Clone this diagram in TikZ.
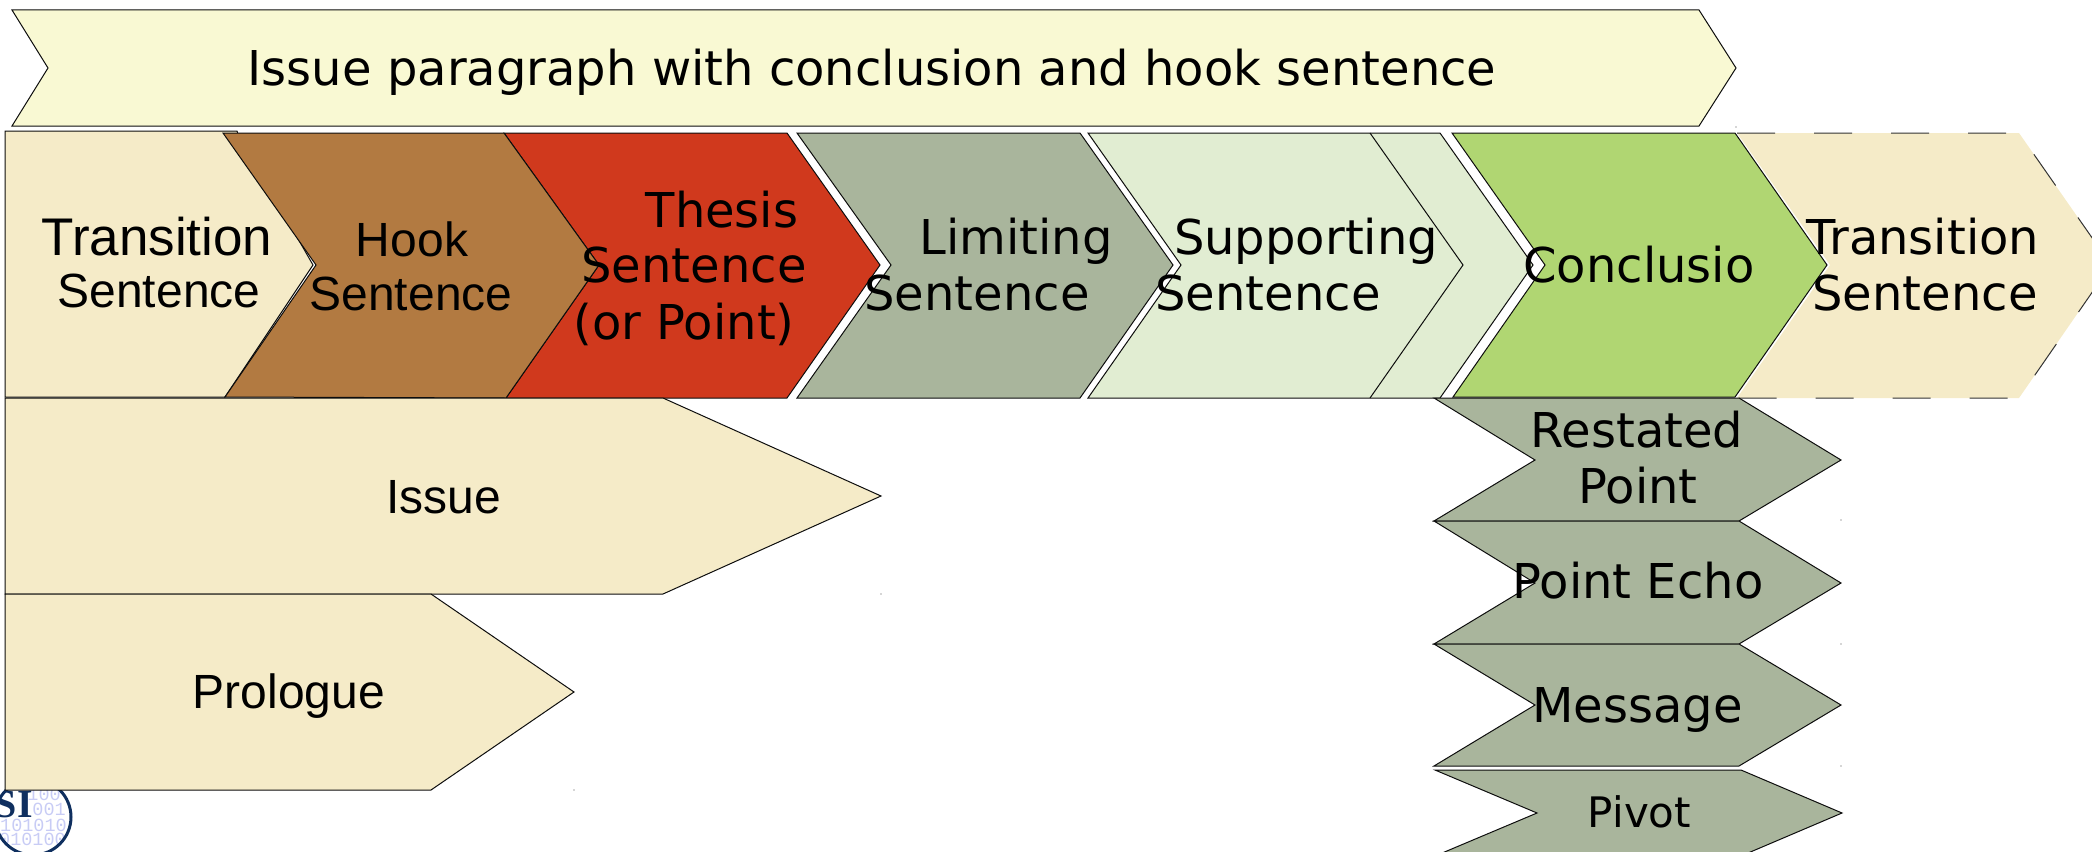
\documentclass[tikz,border=0pt]{standalone}
\usepackage{fontspec}
\setmainfont{DejaVu Sans}
\newfontfamily\arialf{Liberation Sans}
\newfontfamily\serf{Liberation Serif}
\newfontfamily\monof{Liberation Mono}
\definecolor{bannerc}{HTML}{F9F9D3}
\definecolor{beigec}{HTML}{F5EBC8}
\definecolor{hookc}{HTML}{B27A41}
\definecolor{thesisc}{HTML}{D0391D}
\definecolor{limitc}{HTML}{A9B59C}
\definecolor{supportc}{HTML}{E1EDD2}
\definecolor{conclc}{HTML}{B0D672}
\definecolor{logoc}{HTML}{0F2F5F}
\definecolor{bitc}{HTML}{C8CCF5}
\tikzset{
  chev/.style={draw=black!95,line width=1pt,line join=miter},
  dv/.style={anchor=base,inner sep=0pt,text=black,font=\fontsize{48}{50}\selectfont},
  ar/.style={anchor=base,inner sep=0pt,text=black,font=\arialf\fontsize{48}{50}\selectfont},
  bits/.style={anchor=base east,inner sep=0pt,text=bitc,font=\monof\fontsize{18.5}{20}\selectfont},
  speck/.style={fill=black!70,draw=none}
}
\begin{document}
\begin{tikzpicture}[x=1pt,y=-1pt]
\useasboundingbox (0,0) rectangle (2092,851);
\clip (0,0) rectangle (2092,851);
% logo
\begin{scope}
  \clip (33,817) circle (38);
  \node[bits] (b1) at (61,800) {100};
  \node[bits] (b2) at (66,815) {001};
  \node[bits] (b3) at (67,831) {101010};
  \node[bits] (b4) at (66,845) {010100};
  \node[anchor=base east,inner sep=0pt,text=logoc,font=\serf\bfseries\fontsize{40}{40}\selectfont] (si) at (33,817) {SI};
\end{scope}
\draw[logoc,line width=3pt] (33,817) circle (38);
% banner
\filldraw[chev,fill=bannerc] (12,10) -- (1699,10) -- (1736,68) -- (1699,126) -- (12,126) -- (48,68) -- cycle;
\node[dv] (banner) at (872,85) {Issue paragraph with conclusion and hook sentence};
% row of chevrons
\filldraw[chev,fill=beigec] (5,131) -- (237,131) -- (238,134) -- (313,265) -- (225,397) -- (5,397) -- cycle;
\filldraw[chev,fill=thesisc] (504,133) -- (787,133) -- (880,265) -- (787,398) -- (506,398) -- (599,265) -- cycle;
\filldraw[chev,fill=hookc] (223,133) -- (504,133) -- (599,265) -- (506,398) -- (225,397) -- (316,265) -- cycle;
\filldraw[chev,fill=limitc] (797,133) -- (1080,133) -- (1173,265) -- (1080,398) -- (797,398) -- (891,265) -- cycle;
\filldraw[chev,fill=supportc] (1088,133) -- (1440,133) -- (1533,265) -- (1440,398) -- (1088,398) -- (1181,265) -- cycle;
\draw[chev] (1370,133) -- (1463,265) -- (1370,398);
\fill[beigec] (1737,133) -- (2019,133) -- (2111,265) -- (2019,398) -- (1737,398) -- (1830,265) -- cycle;
\draw[black!80,line width=1pt,dash pattern=on 38pt off 39pt] (1737,133) -- (2019,133) -- (2111,265) -- (2019,398) -- (1737,398);
\filldraw[chev,fill=conclc] (1452,133) -- (1735,133) -- (1827,265) -- (1735,397) -- (1453,397) -- (1545,265) -- cycle;
% issue & prologue
\filldraw[chev,fill=beigec] (5,398) -- (663,398) -- (881,496) -- (663,594) -- (5,594) -- cycle;
\filldraw[chev,fill=beigec] (5,594) -- (431,594) -- (574,692) -- (431,790) -- (5,790) -- cycle;
% stacked
\filldraw[chev,fill=limitc] (1434,398) -- (1739,398) -- (1841,460) -- (1739,521) -- (1434,521) -- (1535,460) -- cycle;
\filldraw[chev,fill=limitc] (1434,521) -- (1739,521) -- (1841,583) -- (1739,644) -- (1434,644) -- (1535,583) -- cycle;
\filldraw[chev,fill=limitc] (1434,644) -- (1739,644) -- (1841,705) -- (1739,766) -- (1434,766) -- (1535,705) -- cycle;
\filldraw[chev,fill=limitc] (1435,770) -- (1741,770) -- (1842,813) -- (1741,856) -- (1435,856) -- (1537,813) -- cycle;
% specks
\fill[speck] (881,594) circle (0.7);
\fill[speck] (574,790) circle (0.7);
\fill[speck] (1736,127) circle (0.7);
\fill[speck] (1841,520) circle (0.7);
\fill[speck] (1841,644) circle (0.7);
\fill[speck] (1841,766) circle (0.7);
% labels
\node[ar,font=\arialf\fontsize{53}{53}\selectfont] (t1a) at (157,255) {Transition};
\node[ar] (t1b) at (159,307) {Sentence};
\node[ar] (h1a) at (412,256) {Hook};
\node[ar] (h1b) at (411,310) {Sentence};
\node[dv] (th1) at (722,227) {Thesis};
\node[dv] (th2) at (694,282) {Sentence};
\node[dv] (th3) at (684,339) {(or Point)};
\node[dv] (l1) at (1016,254) {Limiting};
\node[dv] (l2) at (977,310) {Sentence};
\node[dv] (s1) at (1306,254) {Supporting};
\node[dv] (s2) at (1268,310) {Sentence};
\node[dv] (c1) at (1639,282) {Conclusio};
\node[dv] (t2a) at (1923,254) {Transition};
\node[dv] (t2b) at (1925,310) {Sentence};
\node[ar] (iss) at (443.5,513) {Issue};
\node[ar] (pro) at (289,708.5) {Prologue};
\node[dv] (r1) at (1637,447) {Restated};
\node[dv] (r2) at (1638,503) {Point};
\node[dv] (pe) at (1638,598) {Point Echo};
\node[dv] (me) at (1637.5,722) {Message};
\node[dv,font=\fontsize{42}{44}\selectfont] (pi) at (1639.5,827) {Pivot};
\end{tikzpicture}
\end{document}
